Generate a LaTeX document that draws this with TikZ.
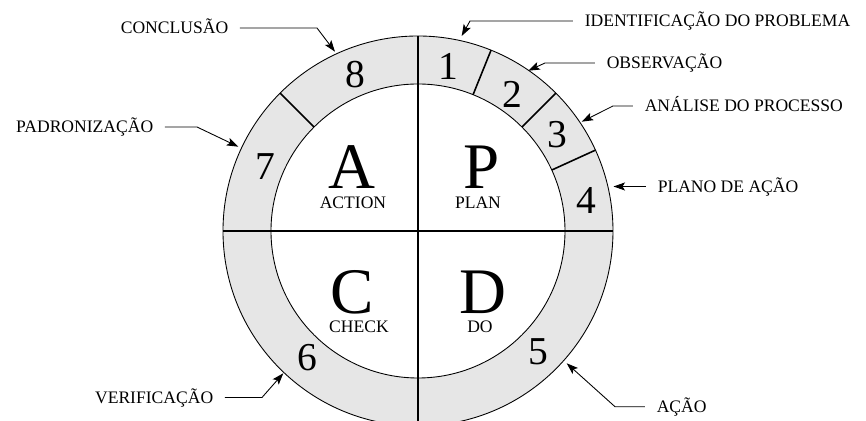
\documentclass[tikz,border=0pt]{standalone}
\usepackage{fontspec}
\setmainfont{Liberation Serif}
\usetikzlibrary{arrows.meta,positioning}
\definecolor{ringgray}{RGB}{230,230,230}

\begin{document}
\begin{tikzpicture}[x=0.02cm,y=0.02cm,
  lbl/.style={font=\fontsize{10}{12}\selectfont,inner xsep=6.5pt,inner ysep=0pt,text height=6.6pt,text depth=0pt},
  num/.style={font=\fontsize{22.5}{24}\selectfont,inner sep=0pt},
  big/.style={font=\fontsize{37}{40}\selectfont,inner sep=0pt},
  word/.style={font=\fontsize{10}{12}\selectfont,inner sep=0pt},
  arrow/.style={-{Stealth[length=2.3mm,width=1.6mm,inset=0.5mm]},line width=0.5pt},
  sep/.style={line width=0.9pt}
]
\useasboundingbox (-418,-190) rectangle (448,231);

% ring and quadrants
\fill[ringgray,even odd rule] (0,0) circle (195) (0,0) circle (147);
\draw[line width=0.5pt] (0,0) circle (195) (0,0) circle (147);
\draw[sep] (-195,0) -- (195,0);
\draw[sep] (0,195) -- (0,-195);
\foreach \a in {68,45,24.5,135}
  \draw[sep] (\a:147) -- (\a:195);

% steps
\node[num] (n1) at (30,165) {1};
\node[num] (n2) at (94,137) {2};
\node[num] (n3) at (139,96) {3};
\node[num] (n4) at (168,31) {4};
\node[num] (n5) at (120,-121) {5};
\node[num] (n6) at (-111,-127) {6};
\node[num] (n7) at (-153,64) {7};
\node[num] (n8) at (-63,156) {8};

% PDCA
\node[big] (pA) at (-66,64) {A};
\node[word] (wA) at (-65,28) {ACTION};
\node[big] (pP) at (64,64) {P};
\node[word] (wP) at (60,28) {PLAN};
\node[big] (pC) at (-66,-61) {C};
\node[word] (wC) at (-59,-96) {CHECK};
\node[big] (pD) at (65,-61) {D};
\node[word] (wD) at (62,-96) {DO};

% labels
\node[lbl,anchor=east] (conc) at (-178,203) {CONCLUSÃO};
\node[lbl,anchor=west] (ident) at (155,210) {IDENTIFICAÇÃO DO PROBLEMA};
\node[lbl,anchor=west] (obs) at (177,168) {OBSERVAÇÃO};
\node[lbl,anchor=west] (anal) at (215,125) {ANÁLISE DO PROCESSO};
\node[lbl,anchor=west] (plano) at (228,44.5) {PLANO DE AÇÃO};
\node[lbl,anchor=east] (padr) at (-253,104) {PADRONIZAÇÃO};
\node[lbl,anchor=east] (verif) at (-193,-166.5) {VERIFICAÇÃO};
\node[lbl,anchor=west] (acao) at (227,-175.7) {AÇÃO};

\coordinate (t1) at (43.7,195);
\coordinate (t2) at (110.3,160.3);
\coordinate (t3) at (163.7,109.3);
\coordinate (t4) at (195.5,44.5);
\coordinate (t5) at (148.7,-132.3);
\coordinate (t6) at (-134.7,-142.3);
\coordinate (t7) at (-179.7,84.3);
\coordinate (t8) at (-83,179.3);

\draw[arrow] (conc.east) -- ++(77,0) -- (t8);
\draw[arrow] (ident.west) -- ++(-103,0) -- (t1);
\draw[arrow] (obs.west) -- ++(-50,0) -- (t2);
\draw[arrow] (anal.west) -- ++(-20,0) -- (t3);
\draw[arrow] (plano.west) -- (t4);
\draw[arrow] (padr.east) -- ++(32,0) -- (t7);
\draw[arrow] (verif.east) -- ++(37,0) -- (t6);
\draw[arrow] (acao.west) -- ++(-30,0) -- (t5);
\end{tikzpicture}
\end{document}
